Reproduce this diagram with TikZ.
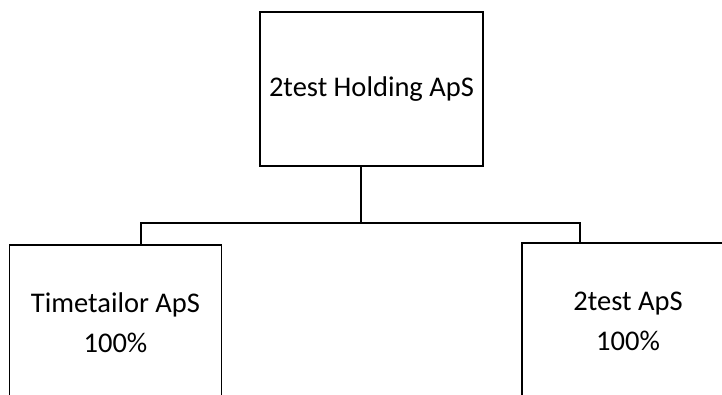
\documentclass[tikz,border=0pt]{standalone}
\usepackage{fontspec}
\setmainfont{Carlito}
\usetikzlibrary{calc}
\tikzset{
  company/.style={draw,line width=1.5pt,inner sep=0,align=center,
                  minimum width=212pt,minimum height=156pt,
                  font=\fontsize{28.5}{40}\selectfont},
  link/.style={line width=1.5pt,line join=miter}}

\begin{document}
\begin{tikzpicture}[x=1pt,y=-1pt]
  \def\Wp{223} % parent width
  \def\Hp{154} % parent height
  \useasboundingbox (0,0) rectangle (722,394);
  
  % BOXES
  \node[company,minimum width=\Wp pt,minimum height=\Hp pt] (holding) at (371.5,89) {2test Holding ApS};
  \node[company] (timetailor) at (115.5,323) {Timetailor ApS\\100\%};
  \node[company] (twotest) at (628,321) {2test ApS\\100\%};
  
  % LINES
  \coordinate (split) at (361,223);
  \draw[link] ([xshift=-10.5pt]holding.south) -- (split);
  \draw[link] (split) -| ([xshift=25.5pt]timetailor.north);
  \draw[link] (split) -| ([xshift=-48pt]twotest.north);
  
\end{tikzpicture}
\end{document}
